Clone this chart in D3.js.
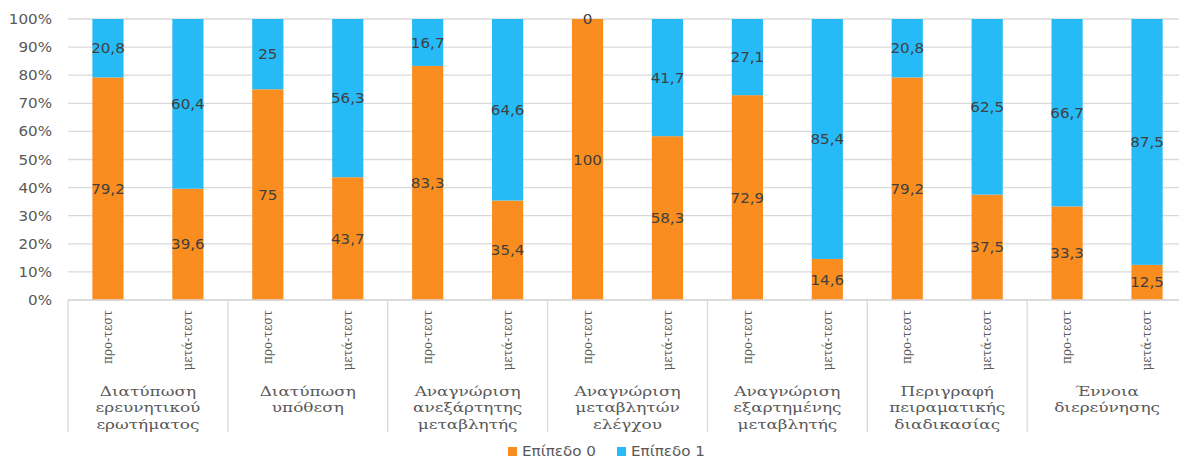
<!DOCTYPE html>
<html><head><meta charset="utf-8">
<script src="https://cdn.jsdelivr.net/npm/d3@7"></script>
<style>
html,body{margin:0;padding:0;background:#fff;}
svg{display:block;}
</style></head>
<body>
<svg id="c" width="1179" height="460"></svg>
<script>
const groups = [
  ["Διατύπωση","ερευνητικού","ερωτήματος"],
  ["Διατύπωση","υπόθεση"],
  ["Αναγνώριση","ανεξάρτητης","μεταβλητής"],
  ["Αναγνώριση","μεταβλητών","ελέγχου"],
  ["Αναγνώριση","εξαρτημένης","μεταβλητής"],
  ["Περιγραφή","πειραματικής","διαδικασίας"],
  ["Έννοια","διερεύνησης"]
];
const phases = ["προ-τεστ","μετά-τεστ"];
const level0 = [79.2, 39.6, 75, 43.7, 83.3, 35.4, 100, 58.3, 72.9, 14.6, 79.2, 37.5, 33.3, 12.5];
const level1 = [20.8, 60.4, 25, 56.3, 16.7, 64.6, 0, 41.7, 27.1, 85.4, 20.8, 62.5, 66.7, 87.5];
const seriesNames = ["Επίπεδο 0","Επίπεδο 1"];
const yTicks = [0,10,20,30,40,50,60,70,80,90,100];

const colors = ["#F98D20","#26BBF6"];
const svg = d3.select("#c");
const L = 68, R = 1187, T = 19, B = 300;
const SX = 1.08;

const items = [];
groups.forEach((g,gi)=>phases.forEach((p,pi)=>items.push({key:gi+"_"+pi, g:gi, p:pi, idx:gi*2+pi})));

const x = d3.scaleBand().domain(items.map(d=>d.key)).range([L,R]).paddingInner(0.61).paddingOuter(0.305);
const xg = d3.scaleBand().domain(groups.map((g,i)=>i)).range([L,R]);
const y = d3.scaleLinear().domain([0,100]).range([B,T]);

const gridC = "#D9D9D9";
// gridlines
svg.append("g").selectAll("line").data(yTicks).join("line")
  .attr("x1",L).attr("x2",R).attr("y1",d=>y(d)).attr("y2",d=>y(d))
  .attr("stroke",gridC).attr("stroke-width",1.3);

// y tick labels
svg.append("g").selectAll("text").data(yTicks).join("text")
  .attr("transform",d=>`translate(52,${y(d)}) scale(${SX},1)`).attr("dy","0.36em")
  .attr("text-anchor","end").attr("fill","#595959")
  .style("font-family","DejaVu Sans").style("font-size","14px")
  .text(d=>d+"%");

// stacked bars
const stackData = items.map(d=>({key:d.key, v0:level0[d.idx], v1:level1[d.idx]}));
const stack = d3.stack().keys(["v0","v1"])(stackData);
const layers = svg.append("g").selectAll("g").data(stack).join("g").attr("fill",(d,i)=>colors[i]);
layers.selectAll("rect").data(d=>d).join("rect")
  .attr("x",d=>x(d.data.key)).attr("width",x.bandwidth())
  .attr("y",d=>y(d[1])).attr("height",d=>y(d[0])-y(d[1]));

// data labels
const fmt = v => String(v).replace(".",",");
const lab = svg.append("g");
stack.forEach((layer,li)=>{
  lab.selectAll("text.l"+li).data(layer).join("text")
    .attr("class","l"+li)
    .attr("transform",d=>`translate(${x(d.data.key)+x.bandwidth()/2},${y((d[0]+d[1])/2)}) scale(${SX},1)`)
    .attr("dy","0.36em")
    .attr("text-anchor","middle").attr("fill","#404040")
    .style("font-family","DejaVu Sans").style("font-size","14px")
    .text(d=>fmt(d.data[li===0?"v0":"v1"]));
});

// x axis line
svg.append("line").attr("x1",L).attr("x2",R).attr("y1",B).attr("y2",B).attr("stroke",gridC).attr("stroke-width",1.3);
// group separators
const seps = groups.map((g,i)=>xg(i));
svg.append("g").selectAll("line").data(seps).join("line")
  .attr("x1",d=>d).attr("x2",d=>d).attr("y1",B).attr("y2",432)
  .attr("stroke",gridC).attr("stroke-width",1.3);

// rotated phase labels
svg.append("g").selectAll("text").data(items).join("text")
  .attr("transform",d=>`translate(${x(d.key)+x.bandwidth()/2},310) rotate(-90)`)
  .attr("dy","0.35em").attr("text-anchor","end").attr("fill","#595959")
  .style("font-family","DejaVu Serif").style("font-size","12px")
  .text(d=>phases[d.p]);

// group labels
const gl = svg.append("g").selectAll("text").data(groups).join("text")
  .attr("transform",(d,i)=>`translate(${xg(i)+xg.bandwidth()/2},396) scale(1.25,1)`)
  .attr("text-anchor","middle").attr("fill","#595959")
  .style("font-family","DejaVu Serif").style("font-size","13.5px");
gl.selectAll("tspan").data(d=>d).join("tspan")
  .attr("x",0)
  .attr("dy",(d,i)=>i===0?0:16.3).text(d=>d);

// legend
const leg = svg.append("g");
const legX = [508, 617];
seriesNames.forEach((n,i)=>{
  leg.append("rect").attr("x",legX[i]).attr("y",447).attr("width",9).attr("height",9).attr("fill",colors[i]);
  leg.append("text").attr("transform",`translate(${legX[i]+14},456) scale(${SX},1)`).attr("fill","#595959")
    .style("font-family","DejaVu Sans").style("font-size","14px").text(n);
});
</script>
</body></html>
